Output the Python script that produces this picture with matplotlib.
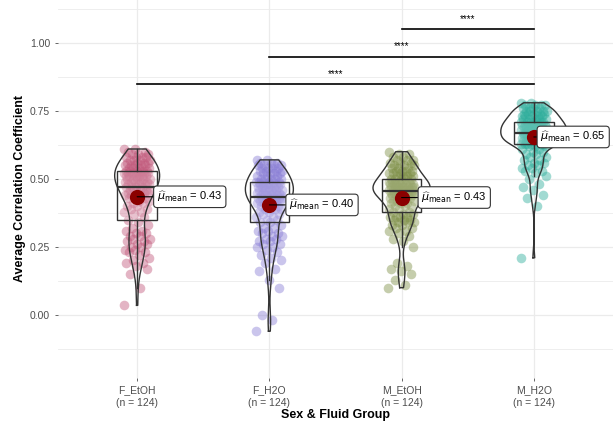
#violin + box + jittered points, ggbetweenstats look
import matplotlib
matplotlib.use("Agg")
import matplotlib.pyplot as plt
import numpy as np

plt.rcParams["font.family"] = ["Liberation Sans", "DejaVu Sans"]
plt.rcParams["mathtext.fontset"] = "dejavusans"

#groups and their values
groups = ["F_EtOH", "F_H2O", "M_EtOH", "M_H2O"]

f_etoh = [
    0.035, 0.10, 0.15, 0.17, 0.18, 0.19, 0.19, 0.20, 0.21, 0.22, 0.23, 0.23, 0.24, 0.24, 0.25, 0.25,
    0.26, 0.26, 0.27, 0.27, 0.28, 0.28, 0.29, 0.29, 0.30, 0.30, 0.31, 0.31, 0.32, 0.33, 0.34,
    0.35, 0.36, 0.37, 0.38, 0.38, 0.39, 0.39, 0.40, 0.40, 0.41, 0.41, 0.42, 0.42, 0.43, 0.43, 0.43,
    0.44, 0.44, 0.44, 0.45, 0.45, 0.45, 0.45, 0.46, 0.46, 0.46, 0.46, 0.46, 0.47, 0.47, 0.47,
    0.47, 0.48, 0.48, 0.48, 0.48, 0.49, 0.49, 0.49, 0.49, 0.49, 0.50, 0.50, 0.50, 0.50, 0.50, 0.51,
    0.51, 0.51, 0.51, 0.51, 0.51, 0.52, 0.52, 0.52, 0.52, 0.52, 0.52, 0.52, 0.53, 0.53, 0.53,
    0.53, 0.53, 0.53, 0.54, 0.54, 0.54, 0.54, 0.55, 0.55, 0.55, 0.55, 0.55, 0.56, 0.56, 0.56, 0.56,
    0.57, 0.57, 0.57, 0.57, 0.58, 0.58, 0.58, 0.58, 0.59, 0.59, 0.59, 0.60, 0.60, 0.61, 0.61,
]

f_h2o = [
    -0.06, -0.02, 0.00, 0.10, 0.13, 0.16, 0.17, 0.19, 0.20, 0.21, 0.22, 0.23, 0.24, 0.25, 0.25, 0.26,
    0.26, 0.27, 0.27, 0.28, 0.28, 0.29, 0.29, 0.30, 0.30, 0.31, 0.31, 0.32, 0.32, 0.33, 0.34,
    0.34, 0.35, 0.35, 0.36, 0.36, 0.37, 0.37, 0.38, 0.38, 0.39, 0.39, 0.39, 0.39, 0.40, 0.40, 0.41,
    0.41, 0.41, 0.41, 0.42, 0.42, 0.42, 0.42, 0.42, 0.43, 0.43, 0.43, 0.43, 0.43, 0.43, 0.43,
    0.44, 0.44, 0.44, 0.44, 0.44, 0.44, 0.45, 0.45, 0.45, 0.45, 0.46, 0.46, 0.46, 0.46, 0.46, 0.46,
    0.47, 0.47, 0.47, 0.47, 0.47, 0.47, 0.48, 0.48, 0.48, 0.48, 0.48, 0.49, 0.49, 0.49, 0.49,
    0.49, 0.49, 0.50, 0.50, 0.50, 0.50, 0.50, 0.51, 0.51, 0.51, 0.52, 0.52, 0.52, 0.52, 0.53, 0.53,
    0.53, 0.53, 0.54, 0.54, 0.54, 0.54, 0.55, 0.55, 0.55, 0.55, 0.56, 0.56, 0.56, 0.57, 0.57,
]

m_etoh = [
    0.10, 0.11, 0.13, 0.15, 0.16, 0.17, 0.18, 0.19, 0.25, 0.27, 0.28, 0.29, 0.30, 0.31, 0.31, 0.32,
    0.32, 0.33, 0.33, 0.34, 0.34, 0.34, 0.35, 0.35, 0.35, 0.36, 0.36, 0.36, 0.36, 0.37, 0.37,
    0.38, 0.38, 0.39, 0.39, 0.40, 0.40, 0.40, 0.41, 0.41, 0.41, 0.42, 0.42, 0.42, 0.42, 0.43, 0.43,
    0.43, 0.43, 0.44, 0.44, 0.44, 0.44, 0.44, 0.45, 0.45, 0.45, 0.45, 0.45, 0.45, 0.45, 0.45,
    0.46, 0.46, 0.46, 0.46, 0.46, 0.46, 0.46, 0.46, 0.47, 0.47, 0.47, 0.47, 0.47, 0.47, 0.47, 0.47,
    0.48, 0.48, 0.48, 0.48, 0.48, 0.48, 0.48, 0.49, 0.49, 0.49, 0.49, 0.49, 0.50, 0.50, 0.50,
    0.50, 0.50, 0.51, 0.51, 0.51, 0.51, 0.52, 0.52, 0.52, 0.52, 0.53, 0.53, 0.53, 0.53, 0.54, 0.54,
    0.54, 0.55, 0.55, 0.55, 0.56, 0.56, 0.56, 0.57, 0.57, 0.57, 0.58, 0.58, 0.59, 0.59, 0.60,
]

m_h2o = [
    0.21, 0.40, 0.43, 0.44, 0.46, 0.47, 0.48, 0.50, 0.51, 0.52, 0.53, 0.53, 0.54, 0.54, 0.55, 0.55,
    0.56, 0.56, 0.57, 0.57, 0.58, 0.58, 0.59, 0.59, 0.60, 0.60, 0.61, 0.61, 0.62, 0.62, 0.62,
    0.63, 0.63, 0.63, 0.63, 0.63, 0.63, 0.63, 0.64, 0.64, 0.64, 0.64, 0.64, 0.64, 0.64, 0.65, 0.65,
    0.65, 0.65, 0.65, 0.65, 0.65, 0.66, 0.66, 0.66, 0.66, 0.66, 0.66, 0.66, 0.67, 0.67, 0.67,
    0.67, 0.67, 0.67, 0.67, 0.68, 0.68, 0.68, 0.68, 0.68, 0.68, 0.68, 0.69, 0.69, 0.69, 0.69, 0.69,
    0.69, 0.69, 0.70, 0.70, 0.70, 0.70, 0.70, 0.70, 0.70, 0.71, 0.71, 0.71, 0.71, 0.71, 0.71,
    0.71, 0.72, 0.72, 0.72, 0.72, 0.72, 0.73, 0.73, 0.73, 0.73, 0.73, 0.74, 0.74, 0.74, 0.74, 0.74,
    0.75, 0.75, 0.75, 0.75, 0.75, 0.76, 0.76, 0.76, 0.76, 0.77, 0.77, 0.77, 0.77, 0.78, 0.78,
]

data = [np.array(f_etoh), np.array(f_h2o), np.array(m_etoh), np.array(m_h2o)]

#pairwise comparisons shown on top
comparisons = [(1, 4, "****"), (2, 4, "****"), (3, 4, "****")]

#styles
COLORS = ["#C25A7C", "#8A7FD6", "#7F9048", "#2FAE9C"]
DARK = "#333333"
GRID = "#EBEBEB"
TEXT = "#4D4D4D"
bracket_y = [0.85, 0.95, 1.05]
label_dx = [0.15, 0.15, 0.15, 0.05]


def nrd0(x):
    #R default bandwidth
    sd = np.std(x, ddof=1)
    iqr = np.subtract(*np.percentile(x, [75, 25]))
    return 0.9 * min(sd, iqr / 1.34) * len(x) ** -0.2


def kde(x, grid):
    bw = nrd0(x)
    z = (grid[:, None] - x[None, :]) / bw
    return np.exp(-0.5 * z ** 2).sum(1) / (len(x) * bw * np.sqrt(2 * np.pi))


fig = plt.figure(figsize=(6.15, 4.29), dpi=100)
ax = fig.add_axes([0.094, 0.119, 0.903, 0.881])

positions = np.arange(1, len(groups) + 1)

#jittered points
for pos, vals, col in zip(positions, data, COLORS):
    jit = ((np.arange(len(vals)) * 0.618034) % 1 - 0.5) * 0.2
    ax.scatter(pos + jit, vals, s=48, color=col, alpha=0.45, lw=0, zorder=2)

#boxplots
ax.boxplot(data, positions=positions, widths=0.3, whis=1.5, showfliers=False,
           showcaps=False, patch_artist=True, manage_ticks=False,
           boxprops=dict(facecolor=(1, 1, 1, 0.2), edgecolor=DARK, lw=1.0),
           medianprops=dict(color=DARK, lw=1.6),
           whiskerprops=dict(color=DARK, lw=1.0), zorder=3)

#violins, area scaled like ggplot
grids, dens = [], []
for vals in data:
    g = np.linspace(vals.min(), vals.max(), 512)
    grids.append(g)
    dens.append(kde(vals, g))
dmax = max(d.max() for d in dens)
for pos, g, d in zip(positions, grids, dens):
    hw = 0.25 * d / dmax
    xs = np.concatenate([pos - hw, (pos + hw)[::-1], [pos - hw[0]]])
    ys = np.concatenate([g, g[::-1], [g[0]]])
    ax.plot(xs, ys, color=DARK, lw=1.0, zorder=4)

#means with labels
for pos, vals, dx in zip(positions, data, label_dx):
    m = vals.mean()
    ax.scatter(pos, m, s=120, color="darkred", zorder=5, lw=0)
    ax.annotate(r"$\widehat{\mu}_{\mathrm{mean}}$ = " + f"{m:.2f}", xy=(pos, m),
                xytext=(pos + dx, m), ha="left", va="center", fontsize=8,
                bbox=dict(boxstyle="round,pad=0.3", fc="white", ec=DARK, lw=0.8),
                arrowprops=dict(arrowstyle="-", color="black", lw=0.8,
                                shrinkA=0, shrinkB=0), zorder=6)

#significance brackets
for (a, b, txt), y in zip(comparisons, bracket_y):
    ax.plot([a, b], [y, y], color="black", lw=1.2, zorder=4)
    ax.text((a + b) / 2, y + 0.037, txt, ha="center", va="center", fontsize=7)

#axes styling
ax.set_xlim(0.4, 4.6)
ax.set_ylim(-0.232, 1.158)
ax.set_yticks([0, 0.25, 0.5, 0.75, 1.0])
ax.set_yticklabels(["0.00", "0.25", "0.50", "0.75", "1.00"])
ax.set_yticks(np.arange(-0.125, 1.2, 0.25), minor=True)
ax.set_xticks(positions)
ax.set_xticklabels([f"{g}\n(n = {len(v)})" for g, v in zip(groups, data)],
                   linespacing=1.25)
ax.tick_params(axis="both", which="major", length=2.5, width=0.6, color=TEXT,
               labelcolor=TEXT, labelsize=7.5, pad=3)
ax.tick_params(axis="y", which="minor", length=0)
ax.grid(True, which="major", color=GRID, lw=0.9, zorder=0)
ax.grid(True, which="minor", axis="y", color=GRID, lw=0.6, zorder=0)
ax.set_axisbelow(True)
for s in ax.spines.values():
    s.set_visible(False)

ax.set_ylabel("Average Correlation Coefficient", fontsize=9, fontweight="bold", labelpad=3)
ax.set_xlabel("Sex & Fluid Group", fontsize=9, fontweight="bold", labelpad=1)

fig.savefig("out.png", dpi=100)
